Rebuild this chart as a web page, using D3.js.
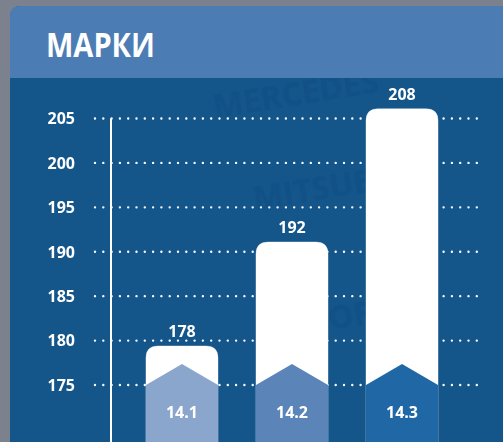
<!DOCTYPE html>
<html>
<head>
<meta charset="utf-8">
<script src="https://cdn.jsdelivr.net/npm/d3@7"></script>
<style>
  html, body { margin: 0; padding: 0; background: #7f8590; }
  svg { display: block; font-family: "Open Sans", sans-serif; }
</style>
</head>
<body>
<svg id="chart" width="503" height="442"></svg>
<script>
// data
const categories = ["14.1", "14.2", "14.3"];
const valueLabels = [178, 192, 208];
// bar tops as they sit against the axis
const barHeights = [179.4, 191.1, 206.1];
const tickValues = [175, 180, 185, 190, 195, 200, 205];
const title = "МАРКИ";
const baseColors = ["#8ba6cd", "#5b85b9", "#1f68a5"];

const svg = d3.select("#chart");
const W = 503, H = 442;

// backdrop (photo behind the panel)
svg.append("rect").attr("width", W).attr("height", H).attr("fill", "#7c828d");

// panel
svg.append("rect")
  .attr("x", 10).attr("y", 6).attr("width", W + 20).attr("height", H + 20)
  .attr("rx", 10).attr("fill", "#14558a");
// header band
svg.append("path")
  .attr("d", "M10,78 V16 Q10,6 20,6 H" + (W + 20) + " V78 Z")
  .attr("fill", "#4b7db4");

svg.append("text")
  .attr("x", 46).attr("y", 57)
  .attr("fill", "#fff")
  .attr("font-size", 34).attr("font-weight", 700)
  .attr("textLength", 109).attr("lengthAdjust", "spacingAndGlyphs")
  .text(title);

// faint watermark words in the body, kept below the header
svg.append("clipPath").attr("id", "body-clip")
  .append("rect").attr("x", 10).attr("y", 78).attr("width", W).attr("height", H);
const marks = svg.append("g").attr("clip-path", "url(#body-clip)")
  .attr("fill", "#0d4b80").attr("opacity", 0.35)
  .attr("font-weight", 700).attr("font-size", 32);
marks.append("text").attr("transform", "translate(215,118) rotate(-9)").text("MERCEDES");
marks.append("text").attr("transform", "translate(255,210) rotate(-9)").text("MITSUBISHI");
marks.append("text").attr("transform", "translate(330,330) rotate(-9)").text("ORBIL");

const y = d3.scaleLinear().domain([175, 205]).range([385, 118.5]);
const x = d3.scaleBand().domain(categories).range([108, 476])
  .paddingInner(0.345).paddingOuter(0.345);

// dotted gridlines
svg.append("g").selectAll("line")
  .data(tickValues)
  .join("line")
  .attr("x1", 95).attr("x2", 482)
  .attr("y1", d => y(d)).attr("y2", d => y(d))
  .attr("stroke", "#fff").attr("stroke-width", 2.4)
  .attr("stroke-linecap", "round")
  .attr("stroke-dasharray", "0 8.3");

// tick labels
svg.append("g").selectAll("text")
  .data(tickValues)
  .join("text")
  .attr("x", 75).attr("y", d => y(d))
  .attr("dy", "0.36em")
  .attr("text-anchor", "end")
  .attr("fill", "#fff").attr("font-size", 16).attr("font-weight", 700)
  .text(d => d);

// axis line
svg.append("line")
  .attr("x1", 111).attr("x2", 111).attr("y1", y(205)).attr("y2", H)
  .attr("stroke", "#fff").attr("stroke-width", 2);

const r = 12;
const bars = svg.append("g").selectAll("g")
  .data(categories.map((c, i) => ({ c, v: valueLabels[i], h: barHeights[i], col: baseColors[i] })))
  .join("g");

bars.append("path")
  .attr("d", d => {
    const x0 = x(d.c), x1 = x0 + x.bandwidth(), t = y(d.h);
    return `M${x0},${H} V${t + r} Q${x0},${t} ${x0 + r},${t} H${x1 - r} Q${x1},${t} ${x1},${t + r} V${H} Z`;
  })
  .attr("fill", "#fff")
  .attr("stroke", "rgba(255,255,255,0.35)").attr("stroke-width", 1);

bars.append("path")
  .attr("d", d => {
    const x0 = x(d.c), x1 = x0 + x.bandwidth(), cx = x0 + x.bandwidth() / 2;
    return `M${x0},${y(175)} L${cx},${y(175) - 21} L${x1},${y(175)} V${H} H${x0} Z`;
  })
  .attr("fill", d => d.col);

bars.append("text")
  .attr("x", d => x(d.c) + x.bandwidth() / 2)
  .attr("y", d => y(d.h) - 9)
  .attr("text-anchor", "middle")
  .attr("fill", "#fff").attr("font-size", 16).attr("font-weight", 700)
  .text(d => d.v);

bars.append("text")
  .attr("x", d => x(d.c) + x.bandwidth() / 2)
  .attr("y", 418)
  .attr("text-anchor", "middle")
  .attr("fill", "#fff").attr("font-size", 16).attr("font-weight", 700)
  .text(d => d.c);
</script>
</body>
</html>
